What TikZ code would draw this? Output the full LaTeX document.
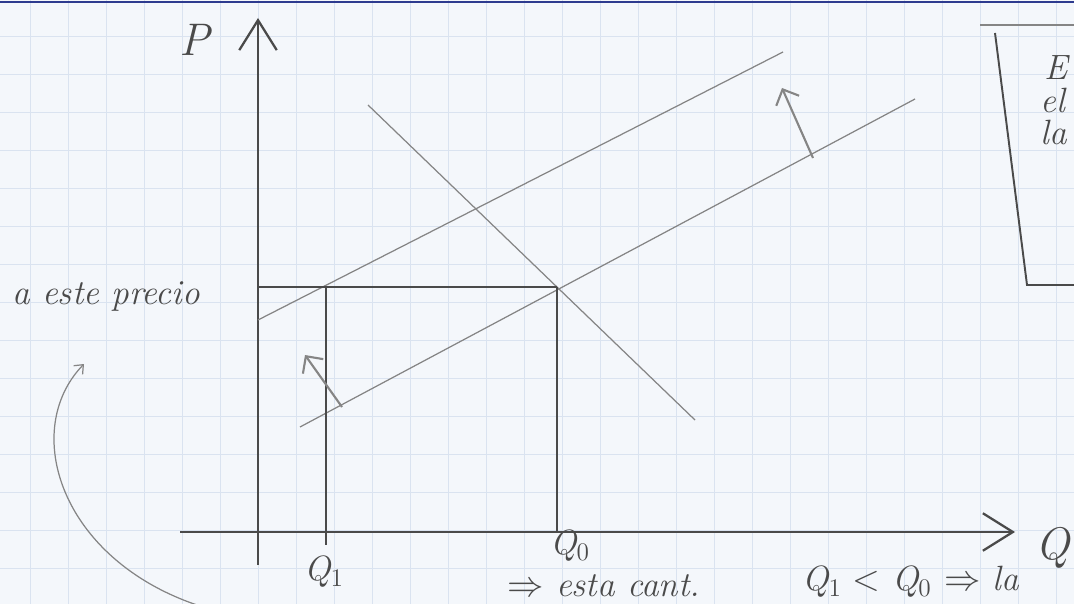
\documentclass[tikz,border=0pt]{standalone}
\usepackage{fontspec}
\usetikzlibrary{arrows.meta, positioning, calc}
\definecolor{cpaper}{HTML}{F4F7FB}
\definecolor{cgrid}{HTML}{DAE3F0}
\definecolor{cpencil}{HTML}{4A4A4A}
\definecolor{clight}{HTML}{858585}
\definecolor{cink}{HTML}{2E3B8F}
\tikzset{
  every picture/.style={line width=0.6pt},
  axis/.style={draw=cpencil, line width=1.3pt, -{Straight Barb[length=6mm, width=7.5mm]}},
  curve/.style={draw=clight, line width=0.7pt},
  guide/.style={draw=cpencil, line width=1.1pt},
  moveup/.style={draw=clight, line width=1.2pt, -{Straight Barb[length=2.5mm, width=5mm]}},
  hand/.style={font=\fontsize{20}{24}\selectfont\itshape, text=cpencil, inner sep=1pt},
  bighand/.style={hand, font=\fontsize{26}{30}\selectfont\itshape},
}

\begin{document}
\begin{tikzpicture}[x=0.02cm, y=-0.02cm]
  \useasboundingbox (0,0) rectangle (1074,604);
  \fill[cpaper] (0,0) rectangle (1074,604);
  % squared paper
  \foreach \gx in {30,68,...,1074} \draw[cgrid, line width=0.4pt] (\gx,0) -- (\gx,604);
  \foreach \gy in {36,74,...,604} \draw[cgrid, line width=0.4pt] (0,\gy) -- (1074,\gy);
  \draw[cink, line width=1.5pt] (0,2) -- (1074,2);

  % axes
  \coordinate (pbot) at (258,565);
  \coordinate (ptop) at (258,18);
  \coordinate (qleft) at (180,532);
  \coordinate (qend) at (1015,532);
  \draw[axis] (pbot) -- (ptop);
  \draw[axis] (qleft) -- (qend);
  \node[bighand] (plab) at (195,40) {P};
  \node[bighand] (qlab) at (1053,548) {Q};

  % demand and the two supply curves
  \coordinate (d1) at (368,105);
  \coordinate (d2) at (695,420);
  \coordinate (s0a) at (300,427);
  \coordinate (s0b) at (915,99);
  \coordinate (s1a) at (258,320);
  \coordinate (s1b) at (783,52);
  \draw[curve] (d1) -- (d2);
  \draw[curve] (s0a) -- (s0b);
  \draw[curve] (s1a) -- (s1b);

  % price and quantities
  \coordinate (pp) at (258,287);
  \coordinate (e0) at (557,287);
  \coordinate (e1) at (326,287);
  \coordinate (q0) at (557,532);
  \coordinate (q1) at (326,545);
  \draw[guide] (pp) -- (e0);
  \draw[guide] (e0) -- (q0);
  \draw[guide] (e1) -- (q1);

  % shift of supply
  \coordinate (m1a) at (342,407);
  \coordinate (m1b) at (305,355);
  \coordinate (m2a) at (813,158);
  \coordinate (m2b) at (782,88);
  \draw[moveup] (m1a) -- (m1b);
  \draw[moveup] (m2a) -- (m2b);

  % labels
  \node[hand, anchor=west] (precio) at (10,296) {a este precio};
  \node[hand] (lq1) at (324,572) {Q$_1$};
  \node[hand] (lq0) at (570,546) {Q$_0$};
  \node[hand, anchor=west] (cant) at (505,586) {$\Rightarrow$ esta cant.};
  \node[hand, anchor=west] (compara) at (800,582) {Q$_1 <$ Q$_0$ $\Rightarrow$ la};

  % note in the margin
  \coordinate (nt) at (84,364);
  \coordinate (nb) at (200,606);
  \draw[curve, -{Straight Barb[length=1.5mm, width=2.5mm]}] (nb) .. controls (60,560) and (20,430) .. (nt);

  % boxed note at the right
  \coordinate (b0) at (980,25);
  \coordinate (b1) at (1074,25);
  \coordinate (b2) at (995,33);
  \coordinate (b3) at (1027,285);
  \coordinate (b4) at (1074,285);
  \draw[curve] (b0) -- (b1);
  \draw[guide] (b2) -- (b3) -- (b4);
  \node[hand, anchor=west] (ne) at (1042,68) {E};
  \node[hand, anchor=west] (nel) at (1038,100) {el};
  \node[hand, anchor=west] (nla) at (1038,132) {la};
\end{tikzpicture}
\end{document}
